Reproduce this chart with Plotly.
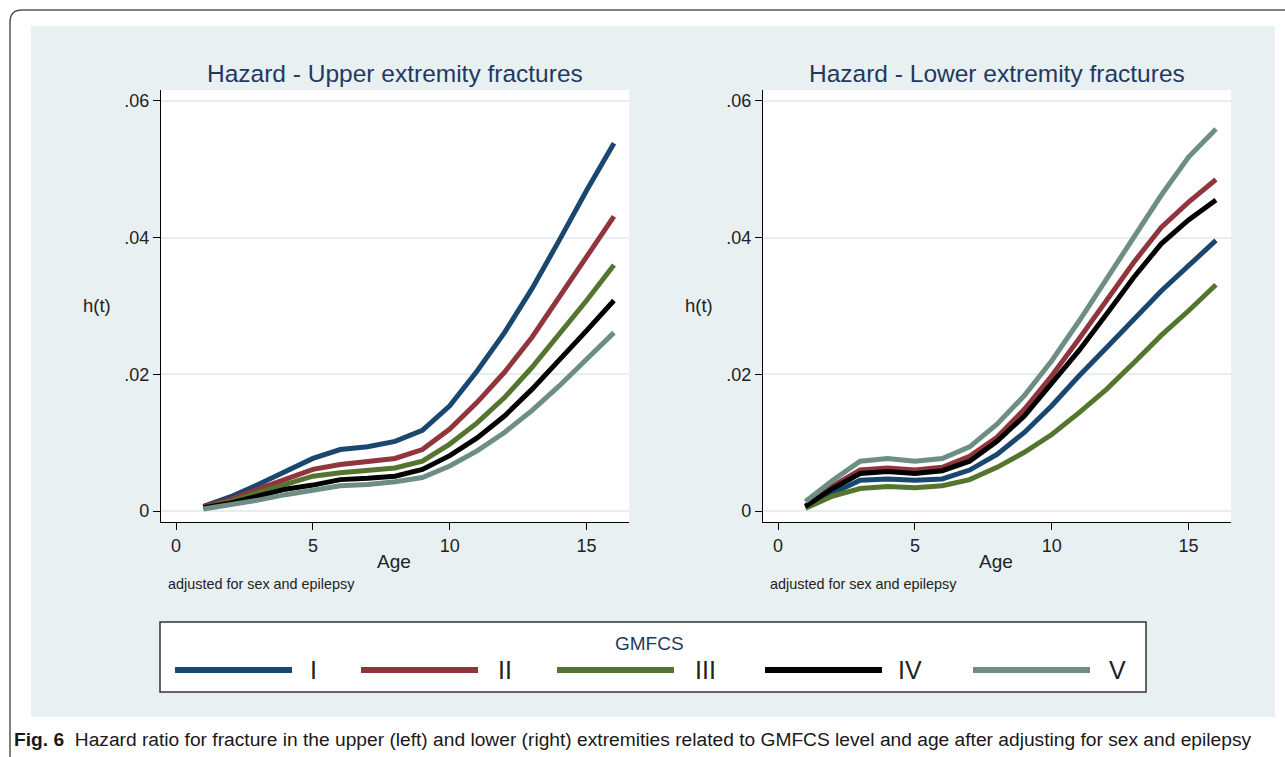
import plotly.graph_objects as go
from plotly.subplots import make_subplots

W, H = 1285, 757

ages = list(range(1, 17))
levels = ["I", "II", "III", "IV", "V"]
colors = ["#1A476F", "#90353B", "#55752F", "#000000", "#6E8E84"]

upper_I   = [0.0007, 0.0021, 0.0039, 0.0059, 0.0077, 0.0090, 0.0094, 0.0102, 0.0118, 0.0154, 0.0205, 0.0261, 0.0325, 0.0396, 0.0469, 0.0538]
upper_II  = [0.0006, 0.0017, 0.0032, 0.0046, 0.0061, 0.0068, 0.0072, 0.0077, 0.0090, 0.0120, 0.0159, 0.0203, 0.0254, 0.0313, 0.0371, 0.0431]
upper_III = [0.0005, 0.0014, 0.0027, 0.0039, 0.0051, 0.0056, 0.0059, 0.0063, 0.0073, 0.0098, 0.0129, 0.0166, 0.0210, 0.0259, 0.0308, 0.0360]
upper_IV  = [0.0005, 0.0012, 0.0022, 0.0032, 0.0038, 0.0046, 0.0048, 0.0051, 0.0061, 0.0081, 0.0107, 0.0139, 0.0178, 0.0220, 0.0264, 0.0308]
upper_V   = [0.0003, 0.0009, 0.0016, 0.0024, 0.0030, 0.0037, 0.0039, 0.0043, 0.0049, 0.0066, 0.0088, 0.0115, 0.0147, 0.0183, 0.0222, 0.0261]

lower_I   = [0.0007, 0.0027, 0.0045, 0.0047, 0.0045, 0.0047, 0.0060, 0.0083, 0.0115, 0.0154, 0.0198, 0.0239, 0.0281, 0.0322, 0.0359, 0.0396]
lower_II  = [0.0007, 0.0037, 0.0060, 0.0063, 0.0060, 0.0064, 0.0080, 0.0108, 0.0149, 0.0198, 0.0252, 0.0308, 0.0364, 0.0415, 0.0452, 0.0485]
lower_III = [0.0004, 0.0022, 0.0033, 0.0036, 0.0034, 0.0037, 0.0046, 0.0064, 0.0086, 0.0112, 0.0144, 0.0178, 0.0217, 0.0257, 0.0293, 0.0331]
lower_IV  = [0.0007, 0.0033, 0.0055, 0.0058, 0.0055, 0.0059, 0.0073, 0.0102, 0.0139, 0.0186, 0.0235, 0.0288, 0.0342, 0.0391, 0.0426, 0.0455]
lower_V   = [0.0014, 0.0045, 0.0073, 0.0077, 0.0073, 0.0077, 0.0094, 0.0127, 0.0169, 0.0220, 0.0278, 0.0340, 0.0402, 0.0462, 0.0518, 0.0559]

upper = [upper_I, upper_II, upper_III, upper_IV, upper_V]
lower = [lower_I, lower_II, lower_III, lower_IV, lower_V]

panel_titles = ["Hazard - Upper extremity fractures", "Hazard - Lower extremity fractures"]
x_ticks = [0, 5, 10, 15]
y_ticks = [0, 0.02, 0.04, 0.06]
y_ticktext = ["0", ".02", ".04", ".06"]
x_title = "Age"
y_title = "h(t)"
note = "adjusted for sex and epilepsy"
legend_title = "GMFCS"
caption_bold = "Fig. 6"
caption = "Hazard ratio for fracture in the upper (left) and lower (right) extremities related to GMFCS level and age after adjusting for sex and epilepsy"

FONT = "Liberation Sans, Arial, sans-serif"
TITLE_COLOR = "#1F3A60"

def px(x):
    return x / W

def py(y):
    return 1 - y / H

fig = make_subplots(rows=1, cols=2)

for col, data in ((1, upper), (2, lower)):
    for name, c, vals in zip(levels, colors, data):
        fig.add_trace(go.Scatter(x=ages, y=vals, mode="lines", name=name,
                                 line=dict(color=c, width=5),
                                 showlegend=False), row=1, col=col)

x_dom = [[px(161), px(629)], [px(763), px(1231)]]
y_dom = [py(522), py(90)]

axis_common = dict(showline=True, linecolor="#000000", linewidth=1.3,
                   ticks="outside", ticklen=7, tickwidth=1.3, tickcolor="#000000",
                   tickfont=dict(family=FONT, size=18, color="#222222"),
                   zeroline=False)

for i in range(2):
    xa = "xaxis" if i == 0 else "xaxis2"
    ya = "yaxis" if i == 0 else "yaxis2"
    fig.layout[xa].update(domain=x_dom[i], range=[-0.55, 16.55], tickmode="array",
                          tickvals=x_ticks, showgrid=False, **axis_common)
    fig.layout[ya].update(domain=y_dom, range=[-0.0016, 0.0616], tickmode="array",
                          tickvals=y_ticks, ticktext=y_ticktext, showgrid=True,
                          gridcolor="#E6EEF0", gridwidth=1.5, **axis_common)

shapes = []
r = 12
path = (f"M {px(10)},{py(H+5)} L {px(10)},{py(10+r)} "
        f"Q {px(10)},{py(10)} {px(10+r)},{py(10)} L {px(W+5)},{py(10)}")
shapes.append(dict(type="path", xref="paper", yref="paper", path=path,
                   line=dict(color="#555555", width=1.5), layer="below"))
shapes.append(dict(type="rect", xref="paper", yref="paper",
                   x0=px(31), x1=px(1275), y0=py(717), y1=py(26),
                   fillcolor="#E9F0F2", line=dict(width=0), layer="below"))
for i in range(2):
    xr = "x domain" if i == 0 else "x2 domain"
    yr = "y domain" if i == 0 else "y2 domain"
    shapes.append(dict(type="rect", xref=xr, yref=yr, x0=0, x1=1, y0=0, y1=1,
                       fillcolor="#FFFFFF", line=dict(width=0), layer="below"))

shapes.append(dict(type="rect", xref="paper", yref="paper",
                   x0=px(160), x1=px(1146), y0=py(692), y1=py(622),
                   fillcolor="#FFFFFF", line=dict(color="#333333", width=1.5)))
leg_line_x = [175, 361, 557, 765, 973]
leg_label_x = [313, 505, 705, 910, 1117]
annotations = []
for name, c, lx, tx in zip(levels, colors, leg_line_x, leg_label_x):
    shapes.append(dict(type="line", xref="paper", yref="paper",
                       x0=px(lx), x1=px(lx + 117), y0=py(670), y1=py(670),
                       line=dict(color=c, width=6)))
    annotations.append(dict(x=px(tx), y=py(670), xref="paper", yref="paper",
                            text=name, showarrow=False, xanchor="center", yanchor="middle",
                            font=dict(family=FONT, size=25, color="#222222")))

annotations.append(dict(x=px(649), y=py(643), xref="paper", yref="paper", text=legend_title,
                        showarrow=False, xanchor="center", yanchor="middle",
                        font=dict(family=FONT, size=19, color=TITLE_COLOR)))

centers = [395, 997]
age_x = [394, 996]
ylab_x = [97, 699]
note_x = [166, 768]
for i in range(2):
    annotations.append(dict(x=px(centers[i]), y=py(74), xref="paper", yref="paper",
                            text=panel_titles[i], showarrow=False, xanchor="center", yanchor="middle",
                            font=dict(family=FONT, size=24.5, color=TITLE_COLOR)))
    annotations.append(dict(x=px(age_x[i]), y=py(561), xref="paper", yref="paper",
                            text=x_title, showarrow=False, xanchor="center", yanchor="middle",
                            font=dict(family=FONT, size=19, color="#222222")))
    annotations.append(dict(x=px(ylab_x[i]), y=py(306), xref="paper", yref="paper",
                            text=y_title, showarrow=False, xanchor="center", yanchor="middle",
                            font=dict(family=FONT, size=18.5, color="#222222")))
    annotations.append(dict(x=px(note_x[i]), y=py(584), xref="paper", yref="paper",
                            text=note, showarrow=False, xanchor="left", yanchor="middle",
                            font=dict(family=FONT, size=14.4, color="#222222")))

annotations.append(dict(x=px(12), y=py(739), xref="paper", yref="paper",
                        text=f"<b>{caption_bold}</b>  {caption}", showarrow=False,
                        xanchor="left", yanchor="middle",
                        font=dict(family=FONT, size=19.2, color="#1A1718")))

fig.update_layout(width=W, height=H, margin=dict(l=0, r=0, t=0, b=0),
                  paper_bgcolor="#FFFFFF", plot_bgcolor="rgba(0,0,0,0)",
                  showlegend=False, shapes=shapes, annotations=annotations)

fig.write_html("out.html", config={"displayModeBar": False},
               post_script="document.body.style.margin='0px';document.body.style.overflow='hidden';")
